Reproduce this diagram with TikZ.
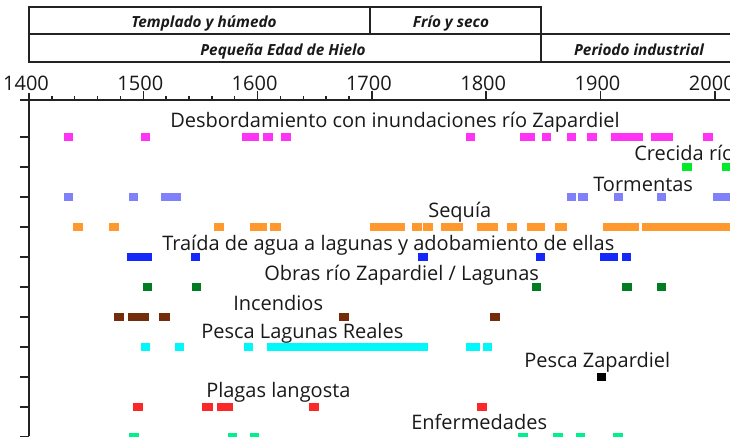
\documentclass[tikz,border=0pt]{standalone}
\usepackage{fontspec}
\setmainfont{Open Sans}
\definecolor{cpink}{RGB}{255,51,245}
\definecolor{cgreenb}{RGB}{0,235,40}
\definecolor{cviolet}{RGB}{128,128,250}
\definecolor{corange}{RGB}{255,153,45}
\definecolor{cblue}{RGB}{20,40,250}
\definecolor{cdgreen}{RGB}{0,125,35}
\definecolor{cbrown}{RGB}{115,45,10}
\definecolor{ccyan}{RGB}{0,248,250}
\definecolor{cred}{RGB}{250,40,40}
\definecolor{cspring}{RGB}{0,240,140}
\definecolor{cline}{RGB}{35,35,35}
\begin{document}
\begin{tikzpicture}[x=0.75pt,y=-0.75pt,
  lab/.style={anchor=base west,inner sep=0pt,text=black!90,font=\fontsize{15}{17}\selectfont},
  yrl/.style={anchor=base,inner sep=0pt,text=black!90,font=\fontsize{15}{17}\selectfont},
  hdr/.style={anchor=base,inner sep=0pt,text=black!90,font=\fontsize{11.5}{13}\selectfont\bfseries\itshape},
  frame/.style={draw=cline,line width=1.1pt},
  axisline/.style={draw=cline,line width=1.1pt}]
\useasboundingbox (0,0) rectangle (730,436);
\clip (0,0) rectangle (730,436);
% header frame
\draw[frame] (29,7) rectangle (541,62);
\draw[frame] (29,34) -- (730,34);
\draw[frame] (541,62) -- (730,62);
\draw[frame] (370,7) -- (370,34);
\node[hdr] (h1) at (204,27) {Templado y húmedo};
\node[hdr] (h2) at (451,27) {Frío y seco};
\node[hdr] (h3) at (283,55) {Pequeña Edad de Hielo};
\node[hdr] (h4) at (639,55) {Periodo industrial};
% axes
\draw[axisline] (20,100) -- (730,100);
\draw[axisline] (29,93) -- (29,436);
\foreach \k in {1,...,15}{
  \pgfmathsetmacro\xx{29+\k*20*1.143}
  \draw[axisline] (\xx,100) -- (\xx,96);
}
\foreach \k in {1,...,6}{
  \pgfmathsetmacro\xx{29+\k*100*1.143}
  \draw[axisline] (\xx,100) -- (\xx,91);
}
\foreach \yr in {1400,1500,...,2000}{
  \pgfmathsetmacro\xx{29+(\yr-1400)*1.143-3}
  \node[yrl] (y\yr) at (\xx,90) {\yr};
}
\foreach \r in {137,167,...,437}{
  \draw[axisline] (20,\r) -- (29,\r);
}
% bars
\foreach \a/\b in {64/73,141/150,242/259,263/273,281/291,466/475,520/535,542/551,567/576,587/597,611/643,651/673,703/713}
  \fill[cpink] (\a,133) rectangle (\b,141);
\foreach \a/\b in {682/692,722/732}
  \fill[cgreenb] (\a,163) rectangle (\b,171);
\foreach \a/\b in {64/73,129/138,161/181,567/576,578/588,614/623,657/666,713/732}
  \fill[cviolet] (\a,193) rectangle (\b,201);
\foreach \a/\b in {73/83,109/119,214/224,250/267,270/281,370/405,412/422,423/433,441/463,477/498,507/517,527/545,555/567,603/639,642/732}
  \fill[corange] (\a,223) rectangle (\b,231);
\foreach \a/\b in {127/152,191/200,418/428,536/545,600/618,622/631}
  \fill[cblue] (\a,253) rectangle (\b,261);
\foreach \a/\b in {143/152,192/201,532/541,622/632,657/666}
  \fill[cdgreen] (\a,283) rectangle (\b,291);
\foreach \a/\b in {114/124,128/149,159/170,339/349,490/500}
  \fill[cbrown] (\a,313) rectangle (\b,321);
\foreach \a/\b in {141/150,175/184,244/253,267/428,466/480,483/492}
  \fill[ccyan] (\a,343) rectangle (\b,351);
\fill[black] (597,373) rectangle (606,381);
\foreach \a/\b in {133/143,202/213,217/233,309/319,477/487}
  \fill[cred] (\a,403) rectangle (\b,411);
\foreach \a/\b in {129/139,228/237,250/259,518/528,553/563,576/585,613/623}
  \fill[cspring] (\a,433) rectangle (\b,441);
% labels
\node[lab] (l1) at (170,127) {Desbordamiento con inundaciones río Zapardiel};
\node[lab] (l2) at (634,160) {Crecida río};
\node[lab] (l3) at (593,191) {Tormentas};
\node[lab] (l4) at (428,217) {Sequía};
\node[lab] (l5) at (162,250) {Traída de agua a lagunas y adobamiento de ellas};
\node[lab] (l6) at (264,280) {Obras río Zapardiel / Lagunas};
\node[lab] (l7) at (233,310) {Incendios};
\node[lab] (l8) at (201,338) {Pesca Lagunas Reales};
\node[lab] (l9) at (524,367) {Pesca Zapardiel};
\node[lab] (l10) at (206,397) {Plagas langosta};
\node[lab] (l11) at (411,429) {Enfermedades};
\end{tikzpicture}
\end{document}
